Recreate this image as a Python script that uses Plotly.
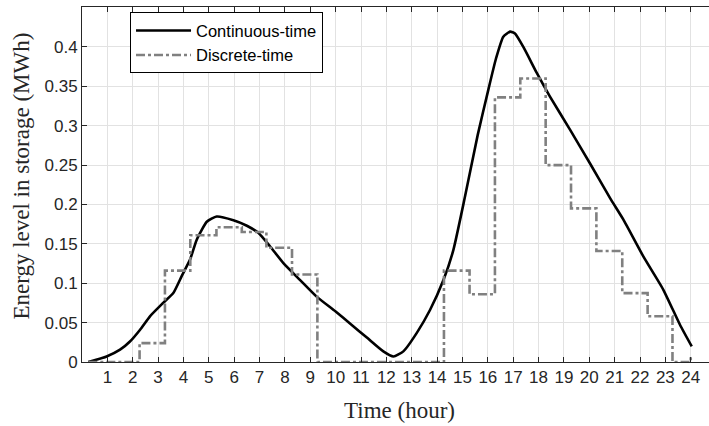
import plotly.graph_objects as go

# Continuous-time energy level (hour, MWh)
cont_hours = [0.25, 0.97, 1.5, 1.89, 2.29, 2.68, 3.2, 3.6, 3.93, 4.26, 4.52, 4.92, 5.31,
              5.97, 6.5, 6.95, 7.41, 7.94, 8.6, 9.25, 10.0, 10.6, 11.23, 11.88, 12.28,
              12.67, 13.2, 13.72, 14.25, 14.64, 15.1, 15.6, 16.0, 16.32, 16.61, 16.88,
              17.07, 17.4, 17.93, 18.45, 19.24, 20.03, 20.82, 21.34, 22.13, 22.92, 23.58, 24.04]
cont_energy = [0.0, 0.007, 0.0156, 0.026, 0.041, 0.058, 0.075, 0.0875, 0.109, 0.13, 0.155, 0.178, 0.1847,
               0.18, 0.173, 0.164, 0.147, 0.1256, 0.104, 0.083, 0.064, 0.048, 0.031, 0.0135, 0.007,
               0.0135, 0.037, 0.066, 0.104, 0.142, 0.21, 0.288, 0.343, 0.385, 0.413, 0.4194,
               0.417, 0.40, 0.367, 0.337, 0.295, 0.252, 0.208, 0.181, 0.134, 0.0917, 0.047, 0.0198]

# Discrete-time energy level (step start hour, MWh)
step_hours = [0.25, 2.27, 3.27, 4.27, 5.3, 6.3, 7.27, 8.28, 9.28, 14.27, 15.28, 16.28,
              17.28, 18.28, 19.28, 20.28, 21.3, 22.3, 23.28, 24.0]
step_energy = [0.0, 0.024, 0.116, 0.161, 0.171, 0.165, 0.145, 0.111, 0.0, 0.116, 0.086, 0.336,
               0.36, 0.25, 0.195, 0.141, 0.0875, 0.058, 0.0, 0.006]

x_ticks = list(range(1, 25))
y_ticks = [0, 0.05, 0.1, 0.15, 0.2, 0.25, 0.3, 0.35, 0.4]
y_tick_labels = ["0", "0.05", "0.1", "0.15", "0.2", "0.25", "0.3", "0.35", "0.4"]

AX = "#262626"
GRID = "#e2e2e2"
SANS = "Liberation Sans, Arial, sans-serif"
SERIF = "Liberation Serif, Times New Roman, serif"

fig = go.Figure()
fig.add_trace(go.Scatter(
    x=cont_hours, y=cont_energy, mode="lines", name="Continuous-time",
    line=dict(color="black", width=2.6, shape="spline", smoothing=0.5)))
fig.add_trace(go.Scatter(
    x=step_hours, y=step_energy, mode="lines", name="Discrete-time",
    line=dict(color="#808080", width=2.6, shape="hv", dash="9px,3px,3px,3px")))

fig.update_layout(
    width=709, height=426,
    margin=dict(l=82, r=0, t=7, b=64),
    paper_bgcolor="white", plot_bgcolor="white",
    font=dict(family=SANS, size=17, color=AX),
    showlegend=True,
    legend=dict(x=0.0766, y=0.985, xanchor="left", yanchor="top",
                bgcolor="white", bordercolor="black", borderwidth=1,
                font=dict(family=SANS, size=16.5, color="black"),
                itemwidth=55, tracegroupgap=0),
    xaxis=dict(range=[0, 24.72], tickmode="array", tickvals=x_ticks,
               ticks="inside", ticklen=5, tickcolor=AX, tickwidth=1,
               showline=True, linecolor=AX, linewidth=1, mirror="ticks",
               showgrid=True, gridcolor=GRID, gridwidth=1, zeroline=False,
               tickfont=dict(family=SANS, size=17, color=AX)),
    yaxis=dict(range=[0, 0.4507], tickmode="array", tickvals=y_ticks, ticktext=y_tick_labels,
               ticks="inside", ticklen=5, tickcolor=AX, tickwidth=1,
               showline=True, linecolor=AX, linewidth=1, mirror=False,
               showgrid=True, gridcolor=GRID, gridwidth=1, zeroline=False,
               tickfont=dict(family=SANS, size=17, color=AX)),
    annotations=[
        dict(text="Time (hour)", xref="x", yref="paper", x=12.5, y=-0.138,
             xanchor="center", yanchor="middle", showarrow=False,
             font=dict(family=SERIF, size=23, color=AX)),
        dict(text="Energy level in storage (MWh)", xref="paper", yref="paper",
             x=-0.0957, y=0.525, xanchor="center", yanchor="middle", textangle=-90,
             showarrow=False, font=dict(family=SERIF, size=23, color=AX)),
    ],
)

fig.write_html("out.html")
